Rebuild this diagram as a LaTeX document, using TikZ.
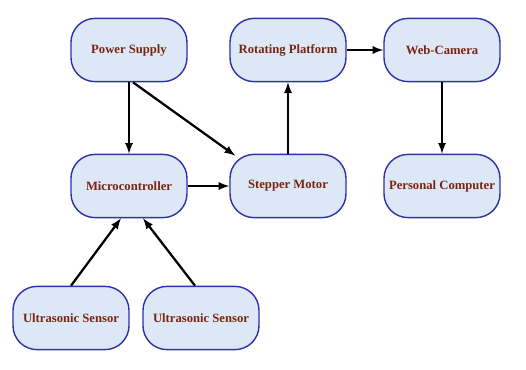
\documentclass[tikz,border=0pt]{standalone}
\usepackage{fontspec}
\setmainfont{Liberation Serif}
\usetikzlibrary{arrows}
\definecolor{boxfill}{HTML}{DDE8F6}
\definecolor{boxline}{HTML}{3030A8}
\definecolor{boxtext}{HTML}{7A2410}
\begin{document}
\begin{tikzpicture}[x=0.025cm, y=-0.025cm,
every node/.style={draw=boxline, fill=boxfill, line width=1pt, rounded corners=0.6cm,
	minimum width=2.9cm, minimum height=1.58cm, text=boxtext,
	font=\bfseries\fontsize{9}{10}\selectfont},
link/.style={-latex, line width=1.6pt, black}]
\useasboundingbox (0,0) rectangle (526,369);
% top row
\node(ps) at (129,50) {Power Supply};
\node(rp) at (288,50) {Rotating Platform};
\node(wc) at (442,50) {Web-Camera};
% middle row
\node(mc) at (129,186) {Microcontroller};
\node(sm) at (288,186) {Stepper Motor};
\node(pc) at (442,186) {Personal Computer};
% sensors
\node(us1) at (71,318) {Ultrasonic Sensor};
\node(us2) at (201,318) {Ultrasonic Sensor};

%connections
\draw[link] (ps.south) -- (mc.north);
\draw[link] ([xshift=0.1cm]ps.south) -- ([xshift=0.15cm,yshift=-0.05cm]sm.north west);
\draw[link] (mc.east) -- (sm.west);
\draw[link] (sm.north) -- (rp.south);
\draw[link] (rp.east) -- (wc.west);
\draw[link] (wc.south) -- (pc.north);
\draw[link] (us1.north) -- ([xshift=-0.2cm]mc.south);
\draw[link] ([xshift=-0.15cm]us2.north) -- ([xshift=0.35cm]mc.south);
\end{tikzpicture}
\end{document}
